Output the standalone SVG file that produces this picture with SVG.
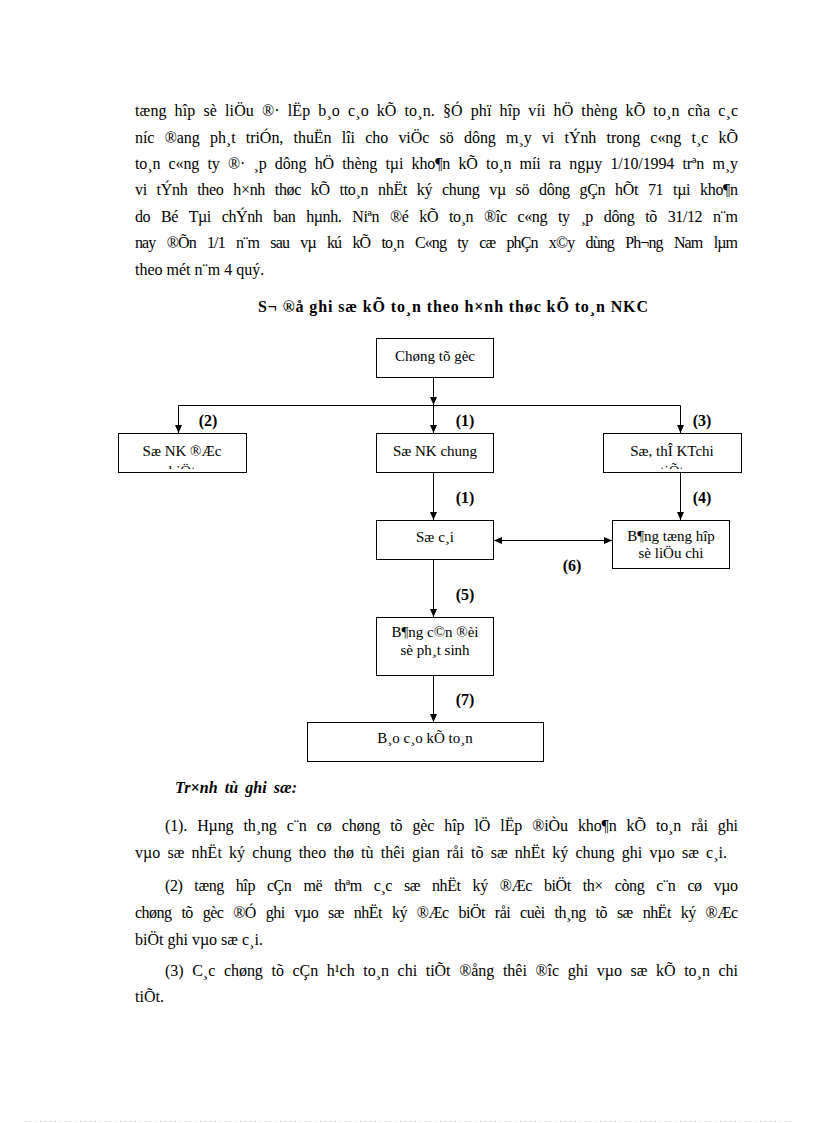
<svg xmlns="http://www.w3.org/2000/svg" width="816" height="1123" viewBox="0 0 816 1123">
<style>
.t{font-family:"Liberation Serif","Times New Roman",serif;font-size:16px;fill:#000}
.b{font-weight:bold}
.bi{font-weight:bold;font-style:italic}
.n rect{fill:#fff;stroke:#000;stroke-width:1}
.n text{font-family:"Liberation Serif","Times New Roman",serif;font-size:15px;text-anchor:middle;fill:#000}
.c path{stroke:#000;stroke-width:1;fill:none}
.lbl{font-family:"Liberation Serif","Times New Roman",serif;font-size:16px;font-weight:bold;text-anchor:middle;fill:#000}
</style>
<defs>
<marker id="ah" markerUnits="userSpaceOnUse" markerWidth="8" markerHeight="8" refX="8" refY="4" orient="auto-start-reverse"><path d="M0,0.5 L8,4 L0,7.5 z" fill="#000"/></marker>
<clipPath id="clipL"><rect x="119" y="434" width="127" height="35"/></clipPath>
<clipPath id="clipR"><rect x="604" y="434" width="137" height="35"/></clipPath>
</defs>
<rect width="816" height="1123" fill="#fff"/>
<g id="para1" class="t">
<text x="135" y="116" word-spacing="3.8" textLength="603" lengthAdjust="spacing">tæng hîp sè liÖu ®· lËp b¸o c¸o kÕ to¸n. §Ó phï hîp víi hÖ thèng kÕ to¸n cña c¸c</text>
<text x="135" y="143" word-spacing="6.3" textLength="603" lengthAdjust="spacing">níc ®ang ph¸t triÓn, thuËn lîi cho viÖc sö dông m¸y vi tÝnh trong c«ng t¸c kÕ</text>
<text x="135" y="169" word-spacing="4.4" textLength="603" lengthAdjust="spacing">to¸n c«ng ty ®· ¸p dông hÖ thèng tµi kho¶n kÕ to¸n míi ra ngµy 1/10/1994 trªn m¸y</text>
<text x="135" y="195" word-spacing="6.1" textLength="603" lengthAdjust="spacing">vi tÝnh theo h×nh thøc kÕ tto¸n nhËt ký chung vµ sö dông gÇn hÕt 71 tµi kho¶n</text>
<text x="135" y="222" word-spacing="7.3" textLength="603" lengthAdjust="spacing">do Bé Tµi chÝnh ban hµnh. Niªn ®é kÕ to¸n ®îc c«ng ty ¸p dông tõ 31/12 n¨m</text>
<text x="135" y="248" word-spacing="8.1" textLength="603" lengthAdjust="spacing">nay ®Õn 1/1 n¨m sau vµ kú kÕ to¸n C«ng ty cæ phÇn x©y dùng Ph¬ng Nam lµm</text>
<text x="135" y="275">theo mét n¨m 4 quý.</text>
</g>
<text id="title" class="t b" x="258" y="312" textLength="390" lengthAdjust="spacing">S¬ ®å ghi sæ kÕ to¸n theo h×nh thøc kÕ to¸n NKC</text>
<g id="connectors" class="c">
<path d="M433.5,377.5 V405" marker-end="url(#ah)"/>
<path d="M178.5,405.5 H680.5"/>
<path d="M178.5,405.5 V433" marker-end="url(#ah)"/>
<path d="M433.5,405.5 V433" marker-end="url(#ah)"/>
<path d="M680.5,405.5 V433" marker-end="url(#ah)"/>
<path d="M433.5,472.5 V520" marker-end="url(#ah)"/>
<path d="M680.5,472.5 V520" marker-end="url(#ah)"/>
<path d="M494,540.5 H612" marker-start="url(#ah)" marker-end="url(#ah)"/>
<path d="M433.5,559.5 V617" marker-end="url(#ah)"/>
<path d="M433.5,675.5 V722" marker-end="url(#ah)"/>
</g>
<g id="labels">
<text class="lbl" x="208" y="426">(2)</text>
<text class="lbl" x="465" y="426">(1)</text>
<text class="lbl" x="702" y="426">(3)</text>
<text class="lbl" x="465" y="503">(1)</text>
<text class="lbl" x="702" y="503">(4)</text>
<text class="lbl" x="572" y="571">(6)</text>
<text class="lbl" x="465" y="600">(5)</text>
<text class="lbl" x="465" y="705">(7)</text>
</g>
<g id="n-chungtugoc" class="n"><rect x="376.5" y="338.5" width="117" height="39"/><text x="435" y="361">Chøng tõ gèc</text></g>
<g id="n-nkdacbiet" class="n"><rect x="118.5" y="433.5" width="128" height="39"/><text x="182" y="456">Sæ NK ®Æc</text><text x="182" y="476" clip-path="url(#clipL)">biÖt</text></g>
<g id="n-nkchung" class="n"><rect x="376.5" y="433.5" width="117" height="39"/><text x="435" y="456">Sæ NK chung</text></g>
<g id="n-thekt" class="n"><rect x="603.5" y="433.5" width="138" height="39"/><text x="672" y="456">Sæ, thÎ KTchi</text><text x="672" y="476" clip-path="url(#clipR)">tiÕt</text></g>
<g id="n-socai" class="n"><rect x="376.5" y="520.5" width="117" height="39"/><text x="435" y="542">Sæ c¸i</text></g>
<g id="n-tonghop" class="n"><rect x="612.5" y="520.5" width="117" height="48"/><text x="671" y="541">B¶ng tæng hîp</text><text x="671" y="558">sè liÖu chi</text></g>
<g id="n-candoi" class="n"><rect x="376.5" y="617.5" width="117" height="58"/><text x="435" y="637">B¶ng c©n ®èi</text><text x="435" y="655">sè ph¸t sinh</text></g>
<g id="n-baocao" class="n"><rect x="307.5" y="722.5" width="236" height="39"/><text x="425" y="743">B¸o c¸o kÕ to¸n</text></g>
<g id="para2" class="t">
<text class="bi" x="175" y="793" word-spacing="3" textLength="122" lengthAdjust="spacing">Tr×nh tù ghi sæ:</text>
<text x="165" y="831" word-spacing="6.2" textLength="573" lengthAdjust="spacing">(1). Hµng th¸ng c¨n cø chøng tõ gèc hîp lÖ lËp ®iÒu kho¶n kÕ to¸n råi ghi</text>
<text x="135" y="858" word-spacing="3.2" textLength="592" lengthAdjust="spacing">vµo sæ nhËt ký chung theo thø tù thêi gian råi tõ sæ nhËt ký chung ghi vµo sæ c¸i.</text>
<text x="165" y="891" word-spacing="8.4" textLength="573" lengthAdjust="spacing">(2) tæng hîp cÇn më thªm c¸c sæ nhËt ký ®Æc biÖt th× còng c¨n cø vµo</text>
<text x="135" y="918" word-spacing="6.4" textLength="603" lengthAdjust="spacing">chøng tõ gèc ®Ó ghi vµo sæ nhËt ký ®Æc biÖt råi cuèi th¸ng tõ sæ nhËt ký ®Æc</text>
<text x="135" y="945">biÖt ghi vµo sæ c¸i.</text>
<text x="165" y="976" word-spacing="4.7" textLength="573" lengthAdjust="spacing">(3) C¸c chøng tõ cÇn h¹ch to¸n chi tiÕt ®ång thêi ®îc ghi vµo sæ kÕ to¸n chi</text>
<text x="135" y="1002">tiÕt.</text>
</g>
<path d="M25,1121.5 H795" stroke="#bbb" stroke-width="1" stroke-dasharray="1 4"/>
</svg>
